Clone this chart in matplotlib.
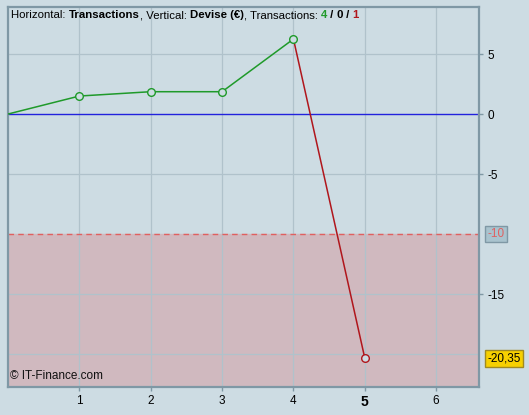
import matplotlib
matplotlib.use("Agg")
import matplotlib.pyplot as plt
from matplotlib.transforms import offset_copy

plt.rcParams["font.family"] = ["Liberation Sans", "DejaVu Sans"]

# données
trades = [0, 1, 2, 3, 4, 5]
cumul = [0, 1.5, 1.86, 1.86, 6.25, -20.35]
y_ticks = [5, 0, -5, -15]
x_ticks = [1, 2, 3, 4, 5, 6]
stop_level = -10
last_value = -20.35
nb_gains, nb_nuls, nb_pertes = 4, 0, 1

bg = "#cddce3"
green = "#1f9a2a"
red = "#b0161c"

fig = plt.figure(figsize=(5.29, 4.15), dpi=100, facecolor=bg)
ax = fig.add_axes([8 / 529, 28 / 415, 471 / 529, 380 / 415], facecolor=bg)
ax.set_xlim(0, 6.6)
ax.set_ylim(-22.75, 8.92)

# grille
for x in x_ticks:
    ax.axvline(x, color="#b0c2cb", lw=0.9, zorder=1)
for y in [5, -5, -15, -20]:
    ax.axhline(y, color="#b0c2cb", lw=0.9, zorder=1)

# zone de perte
ax.axhspan(-22.75, stop_level, color="#d0b9bf", zorder=0.5)
ax.axhline(stop_level, color="#e06060", lw=1, ls=(0, (4, 3)), zorder=2)
ax.axhline(0, color="#2222dd", lw=1, zorder=2)

# courbe
ax.plot(trades[:5], cumul[:5], color=green, lw=1.1, zorder=3)
ax.plot(trades[4:], cumul[4:], color=red, lw=1.1, zorder=3)
ax.plot(trades[1:5], cumul[1:5], "o", ms=5.5, mfc=bg, mec=green, mew=1, zorder=4)
ax.plot(trades[5], cumul[5], "o", ms=5.5, mfc=bg, mec=red, mew=1, zorder=4)

for s in ax.spines.values():
    s.set_color("#7f98a5")
    s.set_linewidth(1.6)

ax.yaxis.tick_right()
ax.set_yticks(y_ticks)
ax.set_yticklabels([str(v) for v in y_ticks])
ax.set_xticks(x_ticks)
ax.set_xticklabels([str(v) for v in x_ticks])
ax.tick_params(axis="both", colors="#7f98a5", labelcolor="black", labelsize=8.5, length=3, width=1, pad=3)
ax.get_xticklabels()[4].set_fontsize(10)
ax.get_xticklabels()[4].set_fontweight("bold")

# étiquettes encadrées
ax.annotate("-10", xy=(1, stop_level), xycoords=("axes fraction", "data"), xytext=(6, 0),
            textcoords="offset points", va="center", ha="left", fontsize=8.5, color="#e06060",
            bbox=dict(boxstyle="square,pad=0.2", fc="#a9c3ce", ec="#7f98a5", lw=1))
ax.annotate("-20,35", xy=(1, last_value), xycoords=("axes fraction", "data"), xytext=(6, 0),
            textcoords="offset points", va="center", ha="left", fontsize=8.5, color="black",
            bbox=dict(boxstyle="square,pad=0.2", fc="#f7d000", ec="#a08a20", lw=1))

# titre, morceau par morceau
parts = [("Horizontal: ", "normal", "black"), ("Transactions", "bold", "black"),
         (", Vertical: ", "normal", "black"), ("Devise (€)", "bold", "black"),
         (", Transactions: ", "normal", "black"), (str(nb_gains), "bold", green),
         (" / ", "bold", "black"), (str(nb_nuls), "bold", "black"),
         (" / ", "bold", "black"), (str(nb_pertes), "bold", red)]
renderer = fig.canvas.get_renderer()
x_px = 11
for t, w, c in parts:
    tr = offset_copy(fig.transFigure, fig=fig, x=x_px, y=-18, units="dots")
    txt = fig.text(0, 1, t, transform=tr, fontsize=8.2, fontweight=w, color=c,
                   ha="left", va="baseline")
    # largeur avec les espaces de fin
    w_px = txt.get_window_extent(renderer).width
    if t.endswith(" "):
        probe = fig.text(0, 0, t.rstrip() + "|", fontsize=8.2, fontweight=w)
        bar = fig.text(0, 0, "|", fontsize=8.2, fontweight=w)
        w_px = probe.get_window_extent(renderer).width - bar.get_window_extent(renderer).width
        sp = fig.text(0, 0, "a a", fontsize=8.2, fontweight=w)
        aa = fig.text(0, 0, "aa", fontsize=8.2, fontweight=w)
        w_px += sp.get_window_extent(renderer).width - aa.get_window_extent(renderer).width
        for p in (probe, bar, sp, aa):
            p.remove()
    x_px += w_px

ax.text(0.005, 0.012, "© IT-Finance.com", transform=ax.transAxes, fontsize=8.5,
        color="#111111", ha="left", va="bottom")

fig.savefig("out.png", dpi=100, facecolor=bg)
